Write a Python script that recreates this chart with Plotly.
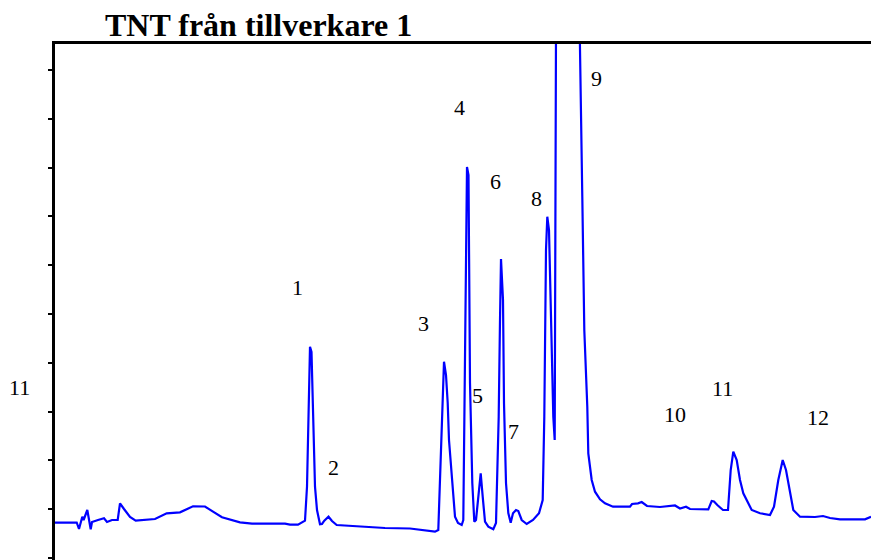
import plotly.graph_objects as go

# Retention time (arbitrary units) and detector signal (arbitrary units)
time = [1, 8, 16, 22.7, 25, 28.3, 29.6, 33.3, 36.7, 38, 44, 50, 53, 58, 63.7, 66, 70, 76, 81.7, 90,
        101, 112.7, 121, 126, 139, 151, 159, 168, 186, 198, 231, 236, 244, 251, 253, 255, 256, 257.5,
        259, 261, 263, 266, 268, 270.3, 274.5, 278, 282.7, 291, 306, 318, 331, 356, 366, 381, 384.3,
        387, 390, 392, 393.7, 395, 397.7, 401, 404, 407.7, 409.3, 410.5, 411.5, 413, 414.5, 415.3,
        416, 418.3, 420.3, 422, 424.3, 426.7, 428.7, 431, 434.3, 439.3, 442, 444.7, 446, 447, 449,
        450, 452, 454.3, 456.7, 459, 462, 464.3, 467.7, 472.7, 479, 485, 488.7, 490.3, 492, 493.3,
        495, 497, 499.3, 500.7, 502, 513, 525.7, 528.3, 530.3, 533.3, 534.3, 537.7, 541, 546, 551,
        559, 576, 578, 584, 587.7, 593, 606, 621, 626, 632, 636, 643, 654.3, 657.7, 660, 663.3, 669,
        674, 676.7, 679.3, 682.7, 686, 689.3, 697.7, 706, 716, 720, 724.3, 728.7, 732, 736, 739.3,
        746, 761, 769, 776, 786, 811, 817]
signal = [35.3, 35.5, 35, 35.5, 29, 41.3, 38, 48, 28.7, 36, 38, 39.7, 36, 38, 38, 54.7, 49, 41, 37.3, 38,
          39, 44.7, 45.3, 45.7, 51.7, 51.5, 46.3, 40.7, 35.7, 34.3, 34.3, 33.3, 33.3, 37.3, 71.3, 158, 211.3, 206,
          145, 71.3, 48, 33.7, 34, 37.3, 41.3, 37, 33, 32.5, 32, 30.7, 30, 29.5, 28, 26.3, 28,
          105, 196.3, 183, 155, 118, 81.3, 41.3, 35, 33, 38, 158, 298, 391, 383, 278,
          175, 75, 36.3, 38, 65, 84.7, 61.3, 36.3, 31.3, 28.7, 35, 141.3, 238, 299, 258,
          155, 75, 45, 35.3, 44.7, 48, 47, 38, 34, 38, 44.7, 58, 141.3, 308, 341.3,
          328, 241.3, 141.3, 118, 528, 658, 528, 361.3, 228, 151, 104.7, 78, 66.3, 58.7, 54.7,
          51.3, 51.3, 54, 54.7, 56, 52, 51, 52.5, 49.5, 51.3, 49, 48.7, 48.7, 57, 56.5, 53, 48,
          48, 88, 106.3, 98, 78, 64.7, 48, 44.7, 43, 51.3, 78, 98, 88, 64.7, 48,
          41.3, 41, 42, 40, 38.7, 38.7, 41.3]

peak_labels = ["1", "2", "3", "4", "5", "6", "7", "8", "9", "10", "11", "12"]
label_time = [243, 279, 369, 405, 423, 441, 459, 482, 542, 621, 668, 764]
label_signal = [271, 91, 235, 451, 163, 377, 127, 360, 480, 144, 170, 141]

side_label = "11"
title_text = "TNT från tillverkare 1"

fig = go.Figure()
fig.add_trace(go.Scatter(x=time, y=signal, mode="lines",
                         line=dict(color="#0000FF", width=2.2), hoverinfo="skip"))

serif = "Liberation Serif, Times New Roman, serif"
for lab, tx, ty in zip(peak_labels, label_time, label_signal):
    fig.add_annotation(x=tx, y=ty, text=lab, showarrow=False,
                       font=dict(family=serif, size=22, color="black"))
fig.add_annotation(xref="paper", yref="paper", x=-0.059, y=0.306, text=side_label,
                   showarrow=False, font=dict(family=serif, size=22, color="black"))

fig.update_layout(
    width=871, height=560,
    margin=dict(l=55, r=0, t=44, b=0),
    paper_bgcolor="white", plot_bgcolor="white",
    showlegend=False,
    title=dict(text="<b>" + title_text + "</b>", x=105 / 871, xanchor="left",
               xref="container", yref="container", y=1 - 25 / 560, yanchor="middle",
               font=dict(family=serif, size=32, color="black")),
    xaxis=dict(range=[1, 817], side="top", showline=True, linecolor="black", linewidth=3,
               ticks="", showticklabels=False, showgrid=False, zeroline=False),
    yaxis=dict(range=[-2, 514], showline=True, linecolor="black", linewidth=3,
               ticks="outside", ticklen=4, tickwidth=2, tickcolor="black",
               tick0=0, dtick=48.8, showticklabels=False, showgrid=False, zeroline=False),
)

fig.write_html("out.html")
